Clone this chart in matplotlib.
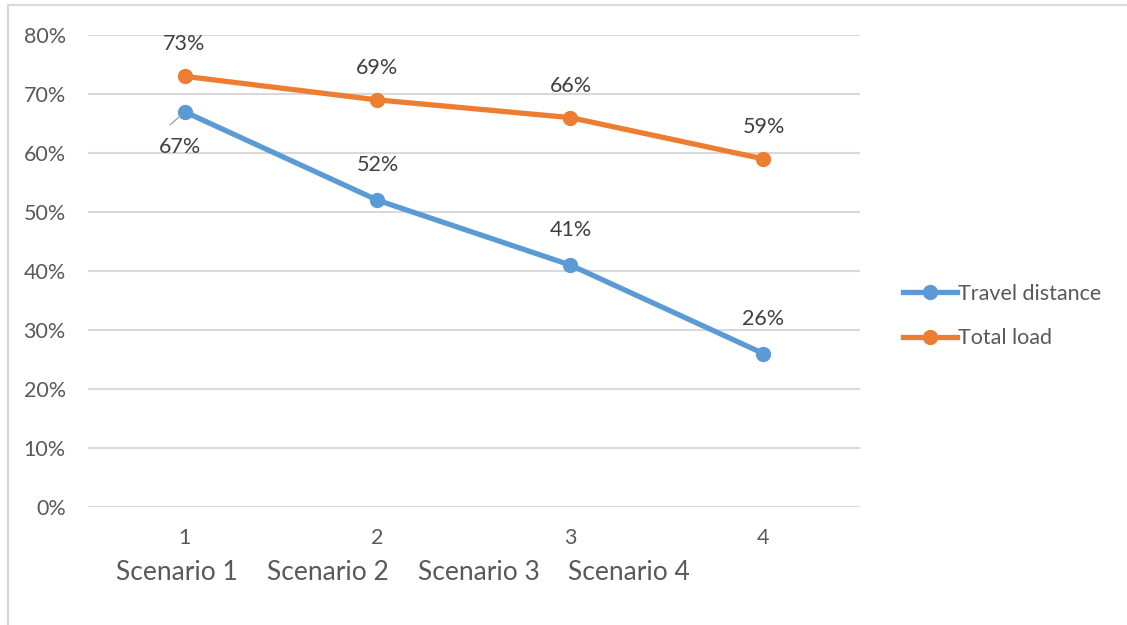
import matplotlib.pyplot as plt
from matplotlib.lines import Line2D

# data
scenarios = [1, 2, 3, 4]
scenario_names = ["Scenario 1", "Scenario 2", "Scenario 3", "Scenario 4"]
travel_distance = [0.67, 0.52, 0.41, 0.26]
total_load = [0.73, 0.69, 0.66, 0.59]
y_ticks = [0, 0.1, 0.2, 0.3, 0.4, 0.5, 0.6, 0.7, 0.8]

blue = "#5B9BD5"
orange = "#ED7D31"
grid_col = "#D9D9D9"
tick_col = "#595959"
label_col = "#404040"
fs = 15.5

plt.rcParams['font.family'] = ['Lato', 'DejaVu Sans']

fig = plt.figure(figsize=(11.27, 6.25), dpi=100)
ax = fig.add_axes([88 / 1127, 1 - 507 / 625, 772 / 1127, 472 / 625])

ax.plot(scenarios, travel_distance, color=blue, lw=3.8, marker='o', ms=10,
        label="Travel distance", solid_capstyle='round', zorder=3)
ax.plot(scenarios, total_load, color=orange, lw=3.8, marker='o', ms=10,
        label="Total load", solid_capstyle='round', zorder=3)

ax.set_xlim(0.5, 4.5)
ax.set_ylim(0, 0.8)
ax.set_yticks(y_ticks)
ax.set_yticklabels([f"{int(round(v * 100))}%" for v in y_ticks])
ax.set_xticks(scenarios)
ax.set_xticklabels([str(s) for s in scenarios])
ax.grid(axis='y', color=grid_col, lw=1.5)
ax.set_axisbelow(True)
for s in ax.spines.values():
    s.set_visible(False)
ax.tick_params(axis='both', length=0, colors=tick_col, labelsize=fs)
ax.tick_params(axis='y', pad=16)
ax.tick_params(axis='x', pad=15)

# data labels
for x, v in zip(scenarios, total_load):
    ax.annotate(f"{int(round(v * 100))}%", (x, v), xytext=(0, 32),
                textcoords='offset pixels', ha='center', va='center',
                fontsize=fs, color=label_col)
for i, (x, v) in enumerate(zip(scenarios, travel_distance)):
    if i == 0:
        ax.annotate(f"{int(round(v * 100))}%", (x, v), xytext=(-4, -35),
                    textcoords='offset pixels', ha='center', va='center',
                    fontsize=fs, color=label_col)
        ax.annotate("", (x - 0.01, v - 0.004), xytext=(x - 0.085, v - 0.025),
                    arrowprops=dict(arrowstyle='-', color='#A6A6A6', lw=1))
    else:
        ax.annotate(f"{int(round(v * 100))}%", (x, v), xytext=(0, 35),
                    textcoords='offset pixels', ha='center', va='center',
                    fontsize=fs, color=label_col)

# scenario names text box
for name, px in zip(scenario_names, [116, 267, 418, 568]):
    fig.text(px / 1127, 1 - 573 / 625, name, ha='left', va='center',
             fontsize=19, color=tick_col)

# legend
handles = [Line2D([], [], color=blue, lw=3.8, marker='o', ms=10),
           Line2D([], [], color=orange, lw=3.8, marker='o', ms=10)]
fig.legend(handles, ["Travel distance", "Total load"], loc='center left',
           bbox_to_anchor=(884 / 1127, 1 - 316 / 625), frameon=False,
           fontsize=fs, labelcolor=tick_col, handlelength=2.5,
           handletextpad=0.05, labelspacing=1.15)

# outer frame
fig.add_artist(Line2D([8 / 1127, 1], [1 - 5 / 625, 1 - 5 / 625],
                      color='#D9D9D9', lw=1.5, transform=fig.transFigure))
fig.add_artist(Line2D([8 / 1127, 8 / 1127], [0, 1 - 5 / 625],
                      color='#D9D9D9', lw=1.5, transform=fig.transFigure))

fig.savefig('out.png', dpi=100)
